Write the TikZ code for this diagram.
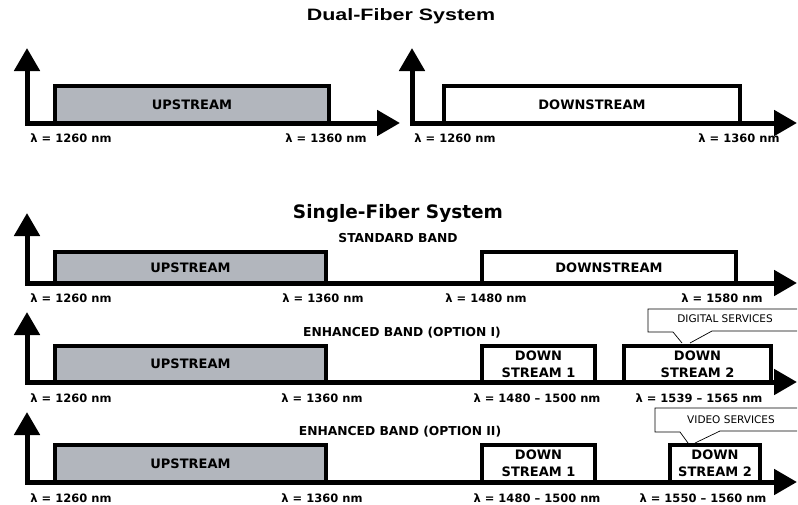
\documentclass[tikz,border=0pt]{standalone}
\usepackage{fontspec}
\setmainfont{DejaVu Sans}
\newfontfamily\dualfont[FakeStretch=1.3]{Liberation Sans}
\usetikzlibrary{arrows.meta}
\definecolor{upgray}{RGB}{178,182,189}
\tikzset{
  axisline/.style={line width=5pt, line join=miter,
    arrows={Triangle[length=23pt,width=25pt]-Triangle[length=23pt,width=25pt]}},
  bandbox/.style={draw, line width=4.5pt, inner sep=0pt, align=center,
    font=\bfseries\fontsize{13}{17}\selectfont},
  upbox/.style={bandbox, fill=upgray},
  downbox/.style={bandbox, fill=white},
  lam/.style={inner sep=0pt, font=\bfseries\fontsize{11.5}{13}\selectfont},
  bandlabel/.style={inner sep=0pt, font=\bfseries\fontsize{12.3}{14}\selectfont},
  notetext/.style={inner sep=0pt, font=\fontsize{10.5}{12}\selectfont},
  calloutline/.style={line width=0.7pt, line join=miter}
}
\begin{document}
\begin{tikzpicture}[x=1pt,y=-1pt]
\useasboundingbox (0,0) rectangle (798,504);

% titles
\node[inner sep=0pt, font=\dualfont\bfseries\fontsize{16.5}{18}\selectfont] (t1) at (401,16) {Dual-Fiber System};
\node[inner sep=0pt, font=\bfseries\fontsize{18.5}{20}\selectfont] (t2) at (398,213) {Single-Fiber System};

% ---------- Row 1 left ----------
\node[upbox, minimum width=274pt, minimum height=37pt] (u1) at (192,104.5) {UPSTREAM};
\coordinate (a1t) at (27,48); \coordinate (a1o) at (27,123); \coordinate (a1e) at (400,123);
\draw[axisline] (a1t) -- (a1o) -- (a1e);
\node[lam] (l11) at (71,138) {λ = 1260 nm};
\node[lam] (l12) at (326,138) {λ = 1360 nm};

% ---------- Row 1 right ----------
\node[downbox, minimum width=296pt, minimum height=37pt] (d1) at (592,104.5) {DOWNSTREAM};
\coordinate (b1t) at (412,48); \coordinate (b1o) at (412,123); \coordinate (b1e) at (797,123);
\draw[axisline] (b1t) -- (b1o) -- (b1e);
\node[lam] (l13) at (455,138) {λ = 1260 nm};
\node[lam] (l14) at (739,138) {λ = 1360 nm};

% ---------- Row 2 ----------
\node[bandlabel] (sb) at (398,238) {STANDARD BAND};
\node[upbox, minimum width=271pt, minimum height=31pt] (u2) at (190.5,267.5) {UPSTREAM};
\node[downbox, minimum width=254pt, minimum height=31pt] (d2) at (609,267.5) {DOWNSTREAM};
\coordinate (a2t) at (27,213); \coordinate (a2o) at (27,283); \coordinate (a2e) at (797,283);
\draw[axisline] (a2t) -- (a2o) -- (a2e);
\node[lam] (l21) at (71,298) {λ = 1260 nm};
\node[lam] (l22) at (323,298) {λ = 1360 nm};
\node[lam] (l23) at (486,298) {λ = 1480 nm};
\node[lam] (l24) at (722,298) {λ = 1580 nm};

% ---------- Row 3 ----------
\node[bandlabel] (eb1) at (402,333) {ENHANCED BAND (OPTION I)};
\node[upbox, minimum width=271pt, minimum height=36pt] (u3) at (190.5,364) {UPSTREAM};
\node[downbox, minimum width=113pt, minimum height=36pt] (d31) at (538.5,364) {DOWN\\STREAM 1};
\node[downbox, minimum width=147pt, minimum height=36pt] (d32) at (697.5,364) {DOWN\\STREAM 2};
\coordinate (a3t) at (27,312); \coordinate (a3o) at (27,382); \coordinate (a3e) at (797,382);
\draw[axisline] (a3t) -- (a3o) -- (a3e);
\node[lam] (l31) at (71,398) {λ = 1260 nm};
\node[lam] (l32) at (322,398) {λ = 1360 nm};
\node[lam] (l33) at (537,398) {λ = 1480 – 1500 nm};
\node[lam] (l34) at (699,398) {λ = 1539 – 1565 nm};

% callout digital services
\node[notetext] (dig) at (725,319) {DIGITAL SERVICES};
\draw[calloutline] (797,309) -- (648,309) -- (648,332) -- (673,332) -- (682,343);
\draw[calloutline] (690,343) -- (712,331) -- (797,331);

% ---------- Row 4 ----------
\node[bandlabel] (eb2) at (400,432) {ENHANCED BAND (OPTION II)};
\node[upbox, minimum width=271pt, minimum height=37pt] (u4) at (190.5,463.5) {UPSTREAM};
\node[downbox, minimum width=113pt, minimum height=37pt] (d41) at (538.5,463.5) {DOWN\\STREAM 1};
\node[downbox, minimum width=90pt, minimum height=37pt] (d42) at (715,463.5) {DOWN\\STREAM 2};
\coordinate (a4t) at (27,412); \coordinate (a4o) at (27,482); \coordinate (a4e) at (797,482);
\draw[axisline] (a4t) -- (a4o) -- (a4e);
\node[lam] (l41) at (71,498) {λ = 1260 nm};
\node[lam] (l42) at (322,498) {λ = 1360 nm};
\node[lam] (l43) at (537,498) {λ = 1480 – 1500 nm};
\node[lam] (l44) at (703,498) {λ = 1550 – 1560 nm};

% callout video services
\node[notetext] (vid) at (731,420) {VIDEO SERVICES};
\draw[calloutline] (797,408) -- (655,408) -- (655,432) -- (680,432) -- (688,443);
\draw[calloutline] (695,443) -- (720,431) -- (797,431);
\end{tikzpicture}
\end{document}
